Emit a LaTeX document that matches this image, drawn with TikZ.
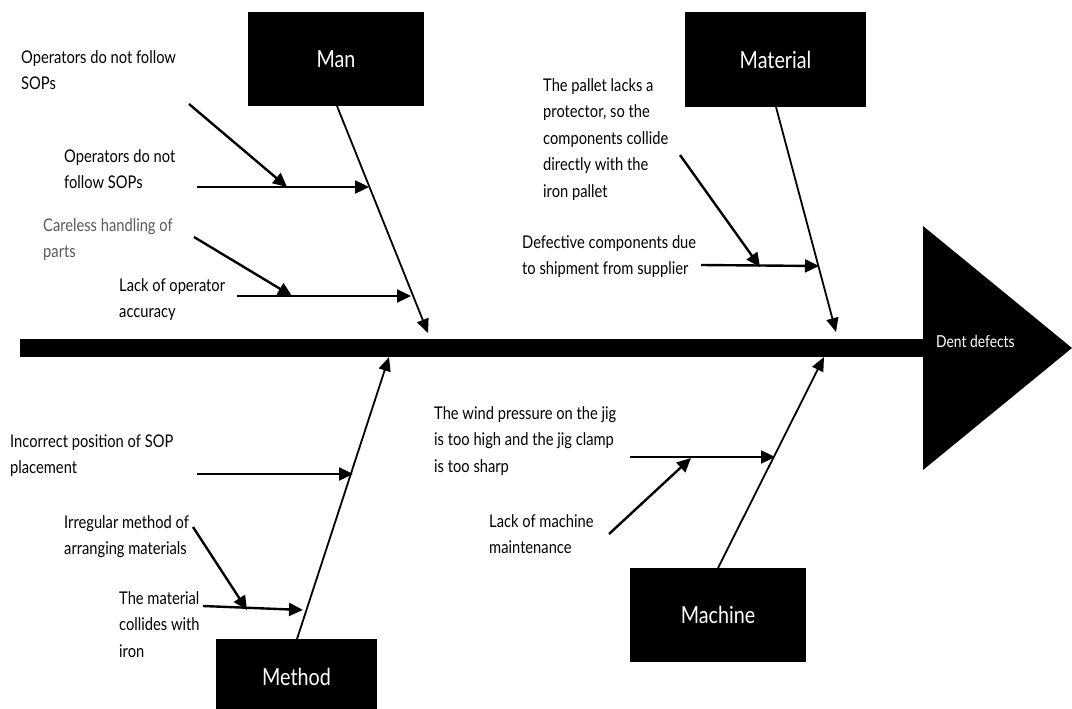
\documentclass[tikz,border=0pt]{standalone}
\usepackage{fontspec}
\setmainfont[FakeStretch=0.84]{Lato}
\usetikzlibrary{arrows.meta}
\begin{document}
\begin{tikzpicture}[x=1pt,y=-1pt,
  catbox/.style={fill=black,text=white,inner sep=0pt,font=\fontsize{23.5}{26}\selectfont},
  cause/.style={anchor=base west,align=left,inner sep=0pt,font=\fontsize{17.5}{26.5}\selectfont},
  bone/.style={line width=1.8pt,-{Triangle[length=14pt,width=12pt]}},
  sub/.style={line width=2.4pt,-{Triangle[length=14pt,width=13pt]}}]
\useasboundingbox (0,0) rectangle (1072,709);
% spine and head
\fill (20,339) rectangle (925,357);
\fill (923,226) -- (1072,348) -- (923,470) -- cycle;
\node[anchor=base west,inner sep=0pt,text=white,font=\fontsize{16.5}{18}\selectfont] (effect) at (936,347) {Dent defects};
% category boxes
\node[catbox,minimum width=176pt,minimum height=94pt] (man) at (336,59) {Man};
\node[catbox,minimum width=181pt,minimum height=95pt] (material) at (775.5,59.5) {Material};
\node[catbox,minimum width=176pt,minimum height=94pt] (machine) at (718,615) {Machine};
\node[catbox,minimum width=161pt,minimum height=76pt] (method) at (296.5,677) {Method};
% bone tips
\coordinate (manT) at (428,333);
\coordinate (matT) at (836,332);
\coordinate (metT) at (389,357);
\coordinate (macT) at (824,357);
\draw[bone] (337,106) -- (manT);
\draw[bone] (776,107) -- (matT);
\draw[bone] (297,639) -- (metT);
\draw[bone] (718,568) -- (macT);
% Man causes
\node[cause] (m1) at (21,89.5) {Operators do not follow\\SOPs};
\node[cause] (m2) at (64,188.5) {Operators do not\\follow SOPs};
\node[cause,text=black!65] (m3) at (43,257.5) {Careless handling of\\parts};
\node[cause] (m4) at (119,317.5) {Lack of operator\\accuracy};
\coordinate (m1s) at (189,104); \coordinate (m1e) at (287,187);
\coordinate (m2s) at (197,187); \coordinate (m2e) at (369,187);
\coordinate (m3s) at (194,237); \coordinate (m3e) at (292,296);
\coordinate (m4s) at (237,296); \coordinate (m4e) at (411,296);
\draw[sub] (m2s) -- (m2e);
\draw[sub] (m1s) -- (m1e);
\draw[sub] (m4s) -- (m4e);
\draw[sub] (m3s) -- (m3e);
% Material causes
\node[cause] (t1) at (543,197) {The pallet lacks a\\protector, so the\\components collide\\directly with the\\iron pallet};
\node[cause] (t2) at (522,274.5) {Defective components due\\to shipment from supplier};
\coordinate (t1s) at (680,155); \coordinate (t1e) at (760,267);
\coordinate (t2s) at (701,265); \coordinate (t2e) at (819,266);
\draw[sub] (t2s) -- (t2e);
\draw[sub] (t1s) -- (t1e);
% Method causes
\node[cause] (d1) at (10,473.5) {Incorrect position of SOP\\placement};
\node[cause] (d2) at (64,554.5) {Irregular method of\\arranging materials};
\node[cause] (d3) at (119,657) {The material\\collides with\\iron};
\coordinate (d1s) at (197,474); \coordinate (d1e) at (353,474);
\coordinate (d2s) at (193,527); \coordinate (d2e) at (247,610);
\coordinate (d3s) at (203,606); \coordinate (d3e) at (303,610);
\draw[sub] (d1s) -- (d1e);
\draw[sub] (d3s) -- (d3e);
\draw[sub] (d2s) -- (d2e);
% Machine causes
\node[cause] (c1) at (434,472) {The wind pressure on the jig\\is too high and the jig clamp\\is too sharp};
\node[cause] (c2) at (489,553.5) {Lack of machine\\maintenance};
\coordinate (c1s) at (630,457); \coordinate (c1e) at (775,457);
\coordinate (c2s) at (609,534); \coordinate (c2e) at (691,458);
\draw[sub] (c1s) -- (c1e);
\draw[sub] (c2s) -- (c2e);
\end{tikzpicture}
\end{document}
